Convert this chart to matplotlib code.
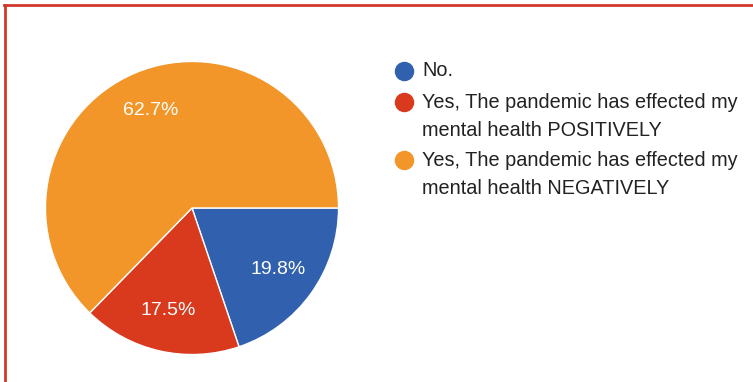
import matplotlib
matplotlib.use("Agg")
import matplotlib.pyplot as plt
from matplotlib.lines import Line2D

plt.rcParams['font.family'] = ['Liberation Sans', 'DejaVu Sans']

# Survey answers and their shares (percent)
categories = [
    "No.",
    "Yes, The pandemic has effected my\nmental health POSITIVELY",
    "Yes, The pandemic has effected my\nmental health NEGATIVELY",
]
shares = [19.8, 17.5, 62.7]
colors = ["#3160ae", "#d9391c", "#f2962a"]

W, H = 753, 382
fig = plt.figure(figsize=(W / 100, H / 100), dpi=100)
fig.patch.set_facecolor("white")

# Pie centred at (192, 208) px with radius 148 px
cx, cy, r = 192, 208, 148
ax = fig.add_axes([(cx - r) / W, (H - cy - r) / H, 2 * r / W, 2 * r / H])
wedges, texts, autotexts = ax.pie(
    shares,
    colors=colors,
    startangle=0,
    counterclock=False,
    radius=1.0,
    autopct=lambda p: f"{p:.1f}%",
    pctdistance=0.72,
    wedgeprops=dict(edgecolor="white", linewidth=1.0),
    textprops=dict(color="white", fontsize=14),
)
ax.set_xlim(-1.01, 1.01)
ax.set_ylim(-1.01, 1.01)
ax.set_aspect("equal")
ax.axis("off")

# Legend drawn as markers and text on the figure
rows = [71, 102, 160]
line_gap = 28
for label, color, y in zip(categories, colors, rows):
    fig.add_artist(Line2D([404 / W], [1 - y / H], marker="o", markersize=13,
                          color=color, linestyle="none",
                          transform=fig.transFigure))
    for i, part in enumerate(label.split("\n")):
        fig.text(422 / W, 1 - (y + i * line_gap) / H, part, fontsize=14.3,
                 color="#222222", va="center", ha="left")

# Red frame along the top and left edges
fig.add_artist(Line2D([4 / W, 1.0], [1 - 5 / H, 1 - 5 / H], color="#cf3a2c",
                      linewidth=2.0, transform=fig.transFigure))
fig.add_artist(Line2D([5 / W, 5 / W], [0.0, 1 - 5 / H], color="#cf3a2c",
                      linewidth=2.0, transform=fig.transFigure))

fig.savefig("out.png", dpi=100, facecolor="white")
